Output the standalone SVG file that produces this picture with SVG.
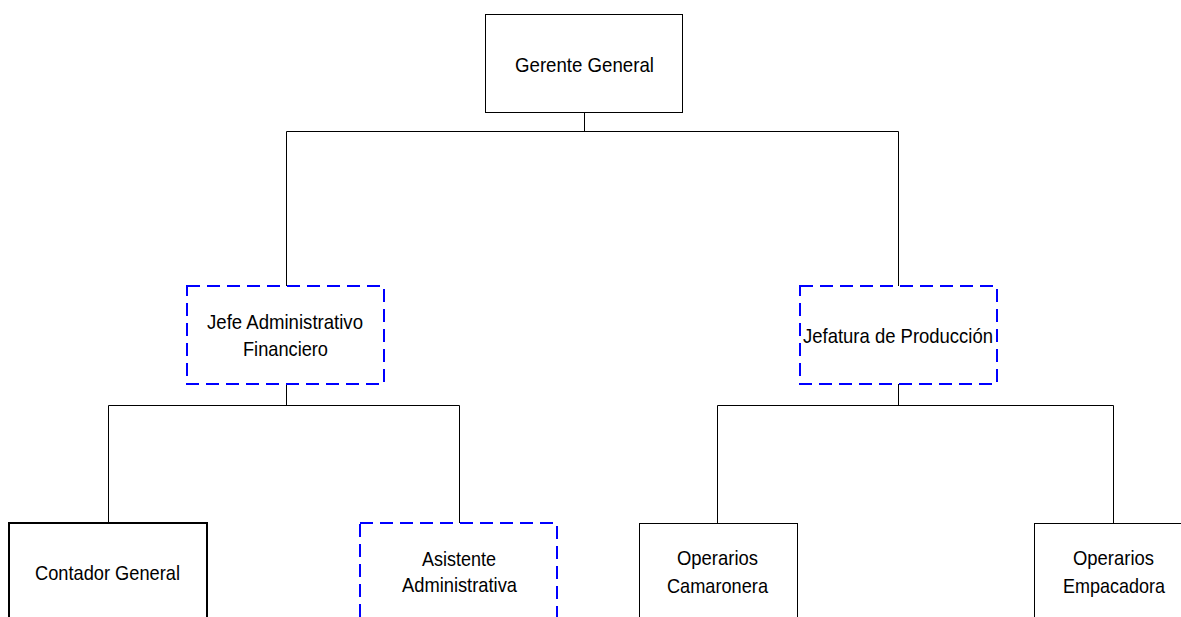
<svg xmlns="http://www.w3.org/2000/svg" width="1181" height="617" viewBox="0 0 1181 617">
<style>
.solid{fill:#fff;stroke:#000;stroke-width:1}
.dash{fill:#fff;stroke:#0000ff;stroke-width:2;stroke-dasharray:13 7}
.lbl{font-family:"Liberation Sans",Arial,sans-serif;font-size:21px;fill:#000;text-anchor:middle}
.conn{stroke:#000;stroke-width:1;fill:none}
</style>
<rect width="1181" height="617" fill="#fff"/>
<g id="connectors">
<path class="conn" d="M584.5 113V131.5M286.5 131.5H898.5M286.5 131.5V286M898.5 131.5V286"/>
<path class="conn" d="M286.5 384V405.5M108.5 405.5H459.5M108.5 405.5V523M459.5 405.5V523"/>
<path class="conn" d="M898.5 384V405.5M717.5 405.5H1113.5M717.5 405.5V523M1113.5 405.5V523"/>
</g>
<g id="gerente">
<rect class="solid" x="485.5" y="14.5" width="197" height="98"/>
<text class="lbl" x="584.5" y="72" textLength="139" lengthAdjust="spacingAndGlyphs">Gerente General</text>
</g>
<g id="jefe-admin">
<rect class="dash" x="187" y="286" width="197" height="98"/>
<text class="lbl" x="285" y="329" textLength="156" lengthAdjust="spacingAndGlyphs">Jefe Administrativo</text>
<text class="lbl" x="285.5" y="356" textLength="85" lengthAdjust="spacingAndGlyphs">Financiero</text>
</g>
<g id="jefatura-prod">
<rect class="dash" x="800" y="286" width="197" height="98"/>
<text class="lbl" x="898" y="343" textLength="190" lengthAdjust="spacingAndGlyphs">Jefatura de Producción</text>
</g>
<g id="contador">
<rect class="solid" style="stroke-width:2" x="9" y="523" width="198" height="110"/>
<text class="lbl" x="107.5" y="580" textLength="145" lengthAdjust="spacingAndGlyphs">Contador General</text>
</g>
<g id="asistente">
<rect class="dash" x="360" y="523" width="197" height="110"/>
<text class="lbl" x="459" y="566" textLength="74" lengthAdjust="spacingAndGlyphs">Asistente</text>
<text class="lbl" x="459.5" y="592" textLength="115" lengthAdjust="spacingAndGlyphs">Administrativa</text>
</g>
<g id="camaronera">
<rect class="solid" x="639.5" y="523.5" width="158" height="110"/>
<text class="lbl" x="717.5" y="565" textLength="81" lengthAdjust="spacingAndGlyphs">Operarios</text>
<text class="lbl" x="717.5" y="593" textLength="101" lengthAdjust="spacingAndGlyphs">Camaronera</text>
</g>
<g id="empacadora">
<rect class="solid" x="1034.5" y="523.5" width="158" height="110"/>
<text class="lbl" x="1113.5" y="565" textLength="81" lengthAdjust="spacingAndGlyphs">Operarios</text>
<text class="lbl" x="1114" y="593" textLength="102" lengthAdjust="spacingAndGlyphs">Empacadora</text>
</g>
</svg>
